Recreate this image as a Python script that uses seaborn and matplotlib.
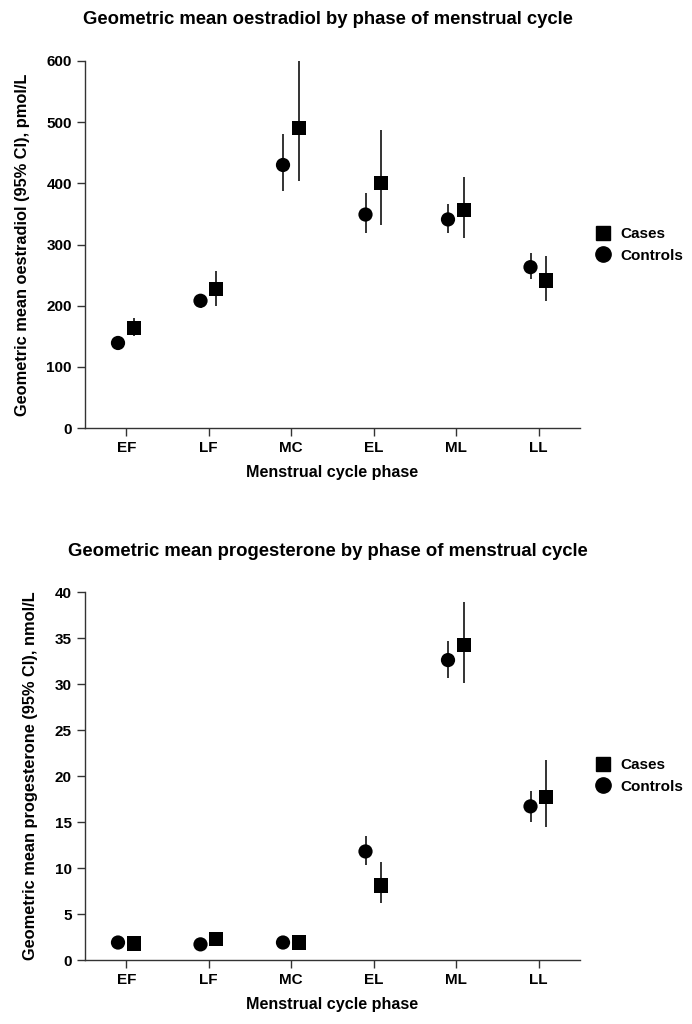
import matplotlib
matplotlib.use("Agg")
import matplotlib.pyplot as plt
from matplotlib.lines import Line2D
import seaborn as sns
import pandas as pd
import numpy as np

phases = ["EF", "LF", "MC", "EL", "ML", "LL"]

# Oestradiol (pmol/L)
oe_ctrl = [139, 208, 430, 349, 341, 263]
oe_ctrl_lo = [134, 197, 387, 318, 318, 244]
oe_ctrl_hi = [145, 219, 480, 385, 366, 286]
oe_case = [164, 227, 491, 401, 357, 241]
oe_case_lo = [150, 200, 403, 332, 310, 207]
oe_case_hi = [180, 257, 601, 487, 411, 281]

# Progesterone (nmol/L)
pg_ctrl = [1.9, 1.7, 1.9, 11.8, 32.6, 16.7]
pg_ctrl_lo = [1.7, 1.5, 1.7, 10.3, 30.6, 15.0]
pg_ctrl_hi = [2.1, 1.9, 2.1, 13.5, 34.7, 18.4]
pg_case = [1.8, 2.3, 1.9, 8.1, 34.2, 17.7]
pg_case_lo = [1.5, 1.8, 1.6, 6.2, 30.1, 14.5]
pg_case_hi = [2.1, 3.0, 2.3, 10.6, 38.9, 21.7]

sns.set_theme(style="ticks")
plt.rcParams["font.family"] = ["Liberation Sans", "DejaVu Sans"]
plt.rcParams["font.weight"] = "bold"
plt.rcParams["text.color"] = "black"
plt.rcParams["axes.labelcolor"] = "black"
plt.rcParams["xtick.labelcolor"] = "black"
plt.rcParams["ytick.labelcolor"] = "black"

fig = plt.figure(figsize=(6.92, 10.24), dpi=100)

W, H = 692, 1024
def rect(l, r, t, b):
    return [l / W, 1 - b / H, (r - l) / W, (b - t) / H]

ax1 = fig.add_axes(rect(85, 580, 61, 428))
ax2 = fig.add_axes(rect(85, 580, 592, 960))

OFF_CTRL, OFF_CASE = -0.1, 0.09
dark = "#111111"

def panel(ax, ctrl, clo, chi, case, alo, ahi, ylim, yticks, ylabel, title, title_y, leg_y):
    idx = np.arange(len(phases))
    df = pd.DataFrame({
        "x": np.concatenate([idx + OFF_CASE, idx + OFF_CTRL]),
        "y": case + ctrl,
        "lo": alo + clo,
        "hi": ahi + chi,
        "group": ["Cases"] * len(phases) + ["Controls"] * len(phases),
    })
    ax.vlines(df["x"], df["lo"], df["hi"], color=dark, lw=1.2, zorder=2)
    sns.scatterplot(data=df, x="x", y="y", style="group",
                    markers={"Cases": "s", "Controls": "o"},
                    color="black", s=105, edgecolor="none",
                    ax=ax, legend=False, zorder=3)
    ax.set_xlim(-0.5, 5.5)
    ax.set_ylim(*ylim)
    ax.set_yticks(yticks)
    ax.set_xticks(idx)
    ax.set_xticklabels(phases)
    for s in ["top", "right"]:
        ax.spines[s].set_visible(False)
    for s in ["left", "bottom"]:
        ax.spines[s].set_color("#333333")
        ax.spines[s].set_linewidth(1.0)
    ax.tick_params(axis="both", direction="out", length=5.5, width=1, color="#333333",
                   labelsize=11, pad=4, labelcolor="black")
    for lab in ax.get_xticklabels() + ax.get_yticklabels():
        lab.set_fontweight("bold")
    ax.set_xlabel("Menstrual cycle phase", fontsize=11.6, fontweight="bold",
                  labelpad=7, color="black")
    ax.set_ylabel(ylabel, fontsize=11.8, fontweight="bold", labelpad=12, color="black")
    ax.set_facecolor("white")
    fig.text(328 / W, 1 - title_y / H, title, ha="center", va="center",
             fontsize=13.3, fontweight="bold", color="black")
    handles = [
        Line2D([], [], marker="s", color="black", linestyle="none", markersize=10),
        Line2D([], [], marker="o", color="black", linestyle="none", markersize=11),
    ]
    fig.legend(handles, ["Cases", "Controls"], loc="center left",
               bbox_to_anchor=(578 / W, 1 - leg_y / H), frameon=False,
               prop={"size": 11, "weight": "bold"}, handletextpad=0.35,
               labelspacing=0.5, handlelength=1.5, labelcolor="black")

panel(ax1, oe_ctrl, oe_ctrl_lo, oe_ctrl_hi, oe_case, oe_case_lo, oe_case_hi,
      (0, 600), [0, 100, 200, 300, 400, 500, 600],
      "Geometric mean oestradiol (95% CI), pmol/L",
      "Geometric mean oestradiol by phase of menstrual cycle", 20, 245)
panel(ax2, pg_ctrl, pg_ctrl_lo, pg_ctrl_hi, pg_case, pg_case_lo, pg_case_hi,
      (0, 40), [0, 5, 10, 15, 20, 25, 30, 35, 40],
      "Geometric mean progesterone (95% CI), nmol/L",
      "Geometric mean progesterone by phase of menstrual cycle", 551, 776)

fig.savefig("out.png", dpi=100, facecolor="white")
